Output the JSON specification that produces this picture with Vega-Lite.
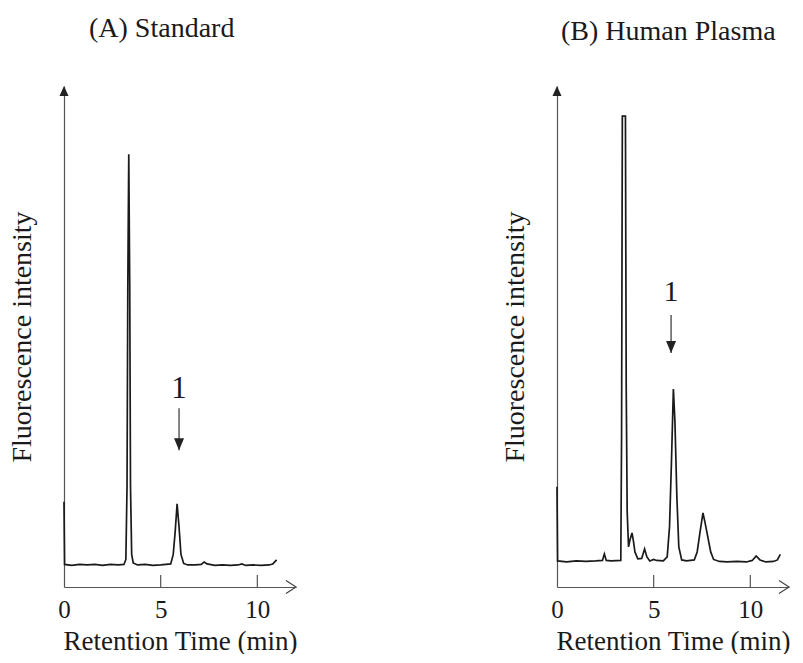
{
  "$schema": "https://vega.github.io/schema/vega-lite/v6.json",
  "background": "white",
  "padding": {"left": 8, "top": 15, "right": 0, "bottom": 0},
  "config": {
    "font": "Liberation Serif",
    "view": {"stroke": null},
    "title": {"font": "Liberation Serif", "fontSize": 28, "fontWeight": "normal", "color": "#1a1a1a"}
  },
  "datasets": {
    "chromA": [
      {"t": 0, "v": 17}, {"t": 0.03, "v": 4.5}, {"t": 0.4, "v": 4.3}, {"t": 0.8, "v": 4.5}, {"t": 1.2, "v": 4.4},
      {"t": 1.6, "v": 4.5}, {"t": 2.0, "v": 4.3}, {"t": 2.4, "v": 4.5}, {"t": 2.8, "v": 4.4}, {"t": 3.1, "v": 4.5},
      {"t": 3.2, "v": 5.5}, {"t": 3.26, "v": 20}, {"t": 3.3, "v": 60}, {"t": 3.35, "v": 86.4}, {"t": 3.4, "v": 60},
      {"t": 3.44, "v": 20}, {"t": 3.5, "v": 6.5}, {"t": 3.58, "v": 4.8}, {"t": 3.8, "v": 4.4}, {"t": 4.2, "v": 4.5},
      {"t": 4.6, "v": 4.3}, {"t": 5.0, "v": 4.4}, {"t": 5.52, "v": 4.6}, {"t": 5.65, "v": 6.5}, {"t": 5.75, "v": 11},
      {"t": 5.85, "v": 16.6}, {"t": 5.95, "v": 12}, {"t": 6.05, "v": 6.5}, {"t": 6.19, "v": 4.7}, {"t": 6.4, "v": 4.4},
      {"t": 6.8, "v": 4.4}, {"t": 7.1, "v": 4.5}, {"t": 7.25, "v": 5.0}, {"t": 7.4, "v": 4.6}, {"t": 7.8, "v": 4.3},
      {"t": 8.2, "v": 4.4}, {"t": 8.6, "v": 4.3}, {"t": 9.0, "v": 4.4}, {"t": 9.2, "v": 4.6}, {"t": 9.4, "v": 4.3},
      {"t": 9.8, "v": 4.4}, {"t": 10.2, "v": 4.3}, {"t": 10.6, "v": 4.4}, {"t": 10.8, "v": 4.6}, {"t": 11.0, "v": 5.4}
    ],
    "chromB": [
      {"t": 0, "v": 20}, {"t": 0.03, "v": 5.2}, {"t": 0.5, "v": 5.0}, {"t": 1.0, "v": 5.2}, {"t": 1.5, "v": 5.1},
      {"t": 2.0, "v": 5.2}, {"t": 2.35, "v": 5.3}, {"t": 2.45, "v": 6.6}, {"t": 2.55, "v": 5.3}, {"t": 2.8, "v": 5.2},
      {"t": 3.3, "v": 5.3}, {"t": 3.34, "v": 30}, {"t": 3.38, "v": 94}, {"t": 3.54, "v": 94}, {"t": 3.58, "v": 40},
      {"t": 3.63, "v": 15}, {"t": 3.7, "v": 8.0}, {"t": 3.78, "v": 9.5}, {"t": 3.88, "v": 10.8}, {"t": 3.96, "v": 9},
      {"t": 4.03, "v": 7.0}, {"t": 4.18, "v": 5.6}, {"t": 4.38, "v": 5.7}, {"t": 4.53, "v": 7.6}, {"t": 4.65, "v": 6.0},
      {"t": 4.8, "v": 5.2}, {"t": 5.0, "v": 5.5}, {"t": 5.15, "v": 5.3}, {"t": 5.5, "v": 5.2}, {"t": 5.7, "v": 6},
      {"t": 5.82, "v": 12}, {"t": 5.92, "v": 25}, {"t": 6.02, "v": 39.5}, {"t": 6.1, "v": 33}, {"t": 6.2, "v": 18},
      {"t": 6.3, "v": 8}, {"t": 6.45, "v": 5.4}, {"t": 6.7, "v": 5.2}, {"t": 7.1, "v": 5.4}, {"t": 7.25, "v": 7},
      {"t": 7.4, "v": 11}, {"t": 7.55, "v": 14.8}, {"t": 7.65, "v": 13}, {"t": 7.8, "v": 10}, {"t": 7.95, "v": 7},
      {"t": 8.1, "v": 5.5}, {"t": 8.4, "v": 5.1}, {"t": 8.8, "v": 5.0}, {"t": 9.3, "v": 5.1}, {"t": 9.8, "v": 5.0},
      {"t": 10.1, "v": 5.3}, {"t": 10.3, "v": 6.2}, {"t": 10.5, "v": 5.4}, {"t": 10.8, "v": 5.0}, {"t": 11.2, "v": 5.1},
      {"t": 11.4, "v": 5.4}, {"t": 11.55, "v": 6.5}
    ],
    "ticks": [{"t": 5, "v0": 0, "v1": 2.4}, {"t": 10, "v0": 0, "v1": 2.4}],
    "axisEnds": [{"t": 0, "v": 100, "end": "y"}, {"t": 12, "v": 0, "end": "x"}],
    "labelA": [{"t": 5.95, "v": 37.7, "top": 35.7, "tip": 27.3, "label": "1"}],
    "labelB": [{"t": 5.9, "v": 57.1, "top": 54.3, "tip": 46.7, "label": "1"}]
  },
  "hconcat": [
    {
      "width": 232,
      "height": 501,
      "title": {"text": "(A) Standard", "anchor": "start", "frame": "group", "dx": 25, "offset": 43},
      "layer": [
        {
          "data": {"name": "chromA"},
          "mark": {"type": "line", "color": "#1a1a1a", "strokeWidth": 1.7, "clip": false},
          "encoding": {
            "x": {"field": "t", "type": "quantitative", "scale": {"domain": [0, 12], "nice": false},
              "axis": {"values": [0, 5, 10], "ticks": false, "grid": false, "domainColor": "#555", "domainWidth": 1.2,
                "labelFont": "Liberation Serif", "labelFontSize": 25, "labelColor": "#1a1a1a", "labelPadding": 10, "labelFlush": false,
                "title": "Retention Time (min)", "titleFont": "Liberation Serif", "titleFontSize": 27, "titleFontWeight": "normal", "titleColor": "#1a1a1a", "titlePadding": 6}},
            "y": {"field": "v", "type": "quantitative", "scale": {"domain": [0, 100], "nice": false},
              "axis": {"ticks": false, "labels": false, "grid": false, "domainColor": "#555", "domainWidth": 1.2,
                "title": "Fluorescence intensity", "titleFont": "Liberation Serif", "titleFontSize": 28, "titleFontWeight": "normal", "titleColor": "#1a1a1a", "titlePadding": 28}}
          }
        },
        {
          "data": {"name": "ticks"},
          "mark": {"type": "rule", "color": "#555", "strokeWidth": 1.2},
          "encoding": {"x": {"field": "t", "type": "quantitative"}, "y": {"field": "v0", "type": "quantitative"}, "y2": {"field": "v1"}}
        },
        {
          "data": {"name": "axisEnds"},
          "transform": [{"filter": "datum.end === 'y'"}],
          "mark": {"type": "point", "shape": "M0,0L-0.9,2L0.9,2Z", "size": 100, "filled": true, "color": "#222", "opacity": 1},
          "encoding": {"x": {"field": "t", "type": "quantitative"}, "y": {"field": "v", "type": "quantitative"}}
        },
        {
          "data": {"name": "axisEnds"},
          "transform": [{"filter": "datum.end === 'x'"}],
          "mark": {"type": "point", "shape": "M-2,-1.3L0,0L-2,1.3", "size": 100, "filled": false, "color": "#444", "strokeWidth": 1.2, "opacity": 1},
          "encoding": {"x": {"field": "t", "type": "quantitative"}, "y": {"field": "v", "type": "quantitative"}}
        },
        {
          "data": {"name": "labelA"},
          "mark": {"type": "text", "fontSize": 31, "font": "Liberation Serif", "baseline": "alphabetic", "color": "#1a1a1a"},
          "encoding": {"x": {"field": "t", "type": "quantitative"}, "y": {"field": "v", "type": "quantitative"}, "text": {"field": "label"}}
        },
        {
          "data": {"name": "labelA"},
          "mark": {"type": "rule", "color": "#333", "strokeWidth": 1.2},
          "encoding": {"x": {"field": "t", "type": "quantitative"}, "y": {"field": "top", "type": "quantitative"}, "y2": {"field": "tip"}}
        },
        {
          "data": {"name": "labelA"},
          "mark": {"type": "point", "shape": "M0,0L-1,-2.4L1,-2.4Z", "size": 100, "filled": true, "color": "#222", "opacity": 1},
          "encoding": {"x": {"field": "t", "type": "quantitative"}, "y": {"field": "tip", "type": "quantitative"}}
        }
      ]
    },
    {
      "width": 232,
      "height": 501,
      "title": {"text": "(B) Human Plasma", "anchor": "start", "frame": "group", "dx": 4, "offset": 40},
      "layer": [
        {
          "data": {"name": "chromB"},
          "mark": {"type": "line", "color": "#1a1a1a", "strokeWidth": 1.7, "clip": false},
          "encoding": {
            "x": {"field": "t", "type": "quantitative", "scale": {"domain": [0, 12], "nice": false},
              "axis": {"values": [0, 5, 10], "ticks": false, "grid": false, "domainColor": "#555", "domainWidth": 1.2,
                "labelFont": "Liberation Serif", "labelFontSize": 25, "labelColor": "#1a1a1a", "labelPadding": 10, "labelFlush": false,
                "title": "Retention Time (min)", "titleFont": "Liberation Serif", "titleFontSize": 27, "titleFontWeight": "normal", "titleColor": "#1a1a1a", "titlePadding": 6}},
            "y": {"field": "v", "type": "quantitative", "scale": {"domain": [0, 100], "nice": false},
              "axis": {"ticks": false, "labels": false, "grid": false, "domainColor": "#555", "domainWidth": 1.2,
                "title": "Fluorescence intensity", "titleFont": "Liberation Serif", "titleFontSize": 28, "titleFontWeight": "normal", "titleColor": "#1a1a1a", "titlePadding": 28}}
          }
        },
        {
          "data": {"name": "ticks"},
          "mark": {"type": "rule", "color": "#555", "strokeWidth": 1.2},
          "encoding": {"x": {"field": "t", "type": "quantitative"}, "y": {"field": "v0", "type": "quantitative"}, "y2": {"field": "v1"}}
        },
        {
          "data": {"name": "axisEnds"},
          "transform": [{"filter": "datum.end === 'y'"}],
          "mark": {"type": "point", "shape": "M0,0L-0.9,2L0.9,2Z", "size": 100, "filled": true, "color": "#222", "opacity": 1},
          "encoding": {"x": {"field": "t", "type": "quantitative"}, "y": {"field": "v", "type": "quantitative"}}
        },
        {
          "data": {"name": "axisEnds"},
          "transform": [{"filter": "datum.end === 'x'"}],
          "mark": {"type": "point", "shape": "M-2,-1.3L0,0L-2,1.3", "size": 100, "filled": false, "color": "#444", "strokeWidth": 1.2, "opacity": 1},
          "encoding": {"x": {"field": "t", "type": "quantitative"}, "y": {"field": "v", "type": "quantitative"}}
        },
        {
          "data": {"name": "labelB"},
          "mark": {"type": "text", "fontSize": 30, "font": "Liberation Serif", "baseline": "alphabetic", "color": "#1a1a1a"},
          "encoding": {"x": {"field": "t", "type": "quantitative"}, "y": {"field": "v", "type": "quantitative"}, "text": {"field": "label"}}
        },
        {
          "data": {"name": "labelB"},
          "mark": {"type": "rule", "color": "#333", "strokeWidth": 1.2},
          "encoding": {"x": {"field": "t", "type": "quantitative"}, "y": {"field": "top", "type": "quantitative"}, "y2": {"field": "tip"}}
        },
        {
          "data": {"name": "labelB"},
          "mark": {"type": "point", "shape": "M0,0L-1,-2.4L1,-2.4Z", "size": 100, "filled": true, "color": "#222", "opacity": 1},
          "encoding": {"x": {"field": "t", "type": "quantitative"}, "y": {"field": "tip", "type": "quantitative"}}
        }
      ]
    }
  ],
  "spacing": 261,
  "bounds": "flush"
}
